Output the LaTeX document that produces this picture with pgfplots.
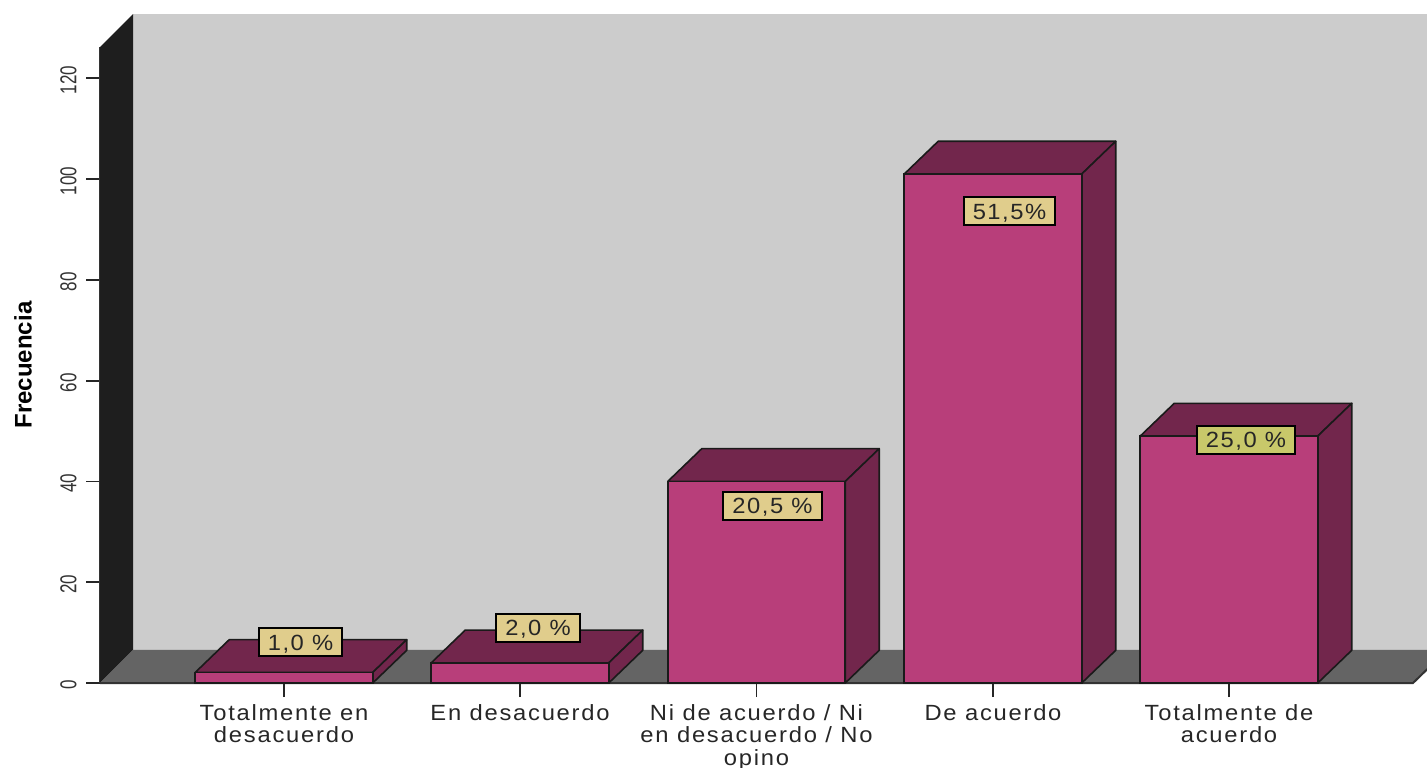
\documentclass[border=0pt]{standalone}
\usepackage{pgfplots}
\pgfplotsset{compat=1.18}
\usepackage{fontspec}
\setmainfont{Liberation Sans}
\newfontfamily\lab[FakeStretch=1.08,LetterSpace=8]{Liberation Sans}
\newfontfamily\tagf[FakeStretch=1.08,LetterSpace=7]{Liberation Sans}
\newfontfamily\num[FakeStretch=0.74]{Liberation Sans}
\definecolor{barfront}{RGB}{184,62,122}
\definecolor{bardark}{RGB}{114,38,76}
\definecolor{wallc}{RGB}{204,204,204}
\definecolor{floorc}{RGB}{100,100,100}
\definecolor{leftc}{RGB}{30,30,30}
\definecolor{linec}{RGB}{26,26,26}
\definecolor{tagA}{RGB}{224,205,140}
\definecolor{tagB}{RGB}{200,200,106}
\pgfplotsset{
  shade3d/.style={fill=bardark,draw=linec,line width=0.8pt,forget plot,line join=round},
  tag/.style={only marks,mark=none,point meta=explicit symbolic,forget plot,
    nodes near coords,
    every node near coord/.append style={anchor=center,draw=black,line width=1pt,fill=#1,
      font=\fontsize{11}{11}\selectfont\tagf,text=black!85,inner xsep=4.6pt,inner ysep=3pt,text height=8pt,text depth=0pt}},
}
\begin{document}
\begin{tikzpicture}
\path[use as bounding box] (-50pt,-42pt) rectangle (663.5pt,341.5pt);
\begin{axis}[
  scale only axis,width=656.5pt,height=318pt,
  xmin=100,xmax=1413,ymin=0,ymax=126.2,
  axis x line=bottom,axis y line=left,
  axis line style={-,draw=black!80,line width=1pt},
  clip=false,
  xtick={284,520,756.5,993,1229},
  xticklabels={Totalmente en\\desacuerdo,En desacuerdo,Ni de acuerdo / Ni\\en desacuerdo / No\\opino,De acuerdo,Totalmente de\\acuerdo},
  xticklabel style={align=center,font=\fontsize{11}{11.2}\selectfont\lab,text=black!85,inner sep=0pt,yshift=-3.5pt},
  ytick={0,20,40,60,80,100,120},
  /pgf/number format/assume math mode=true,
  yticklabel style={rotate=90,anchor=south,font=\fontsize{11.5}{11.5}\selectfont\num,text=black!80,inner sep=0pt,xshift=-1pt,yshift=4.5pt},
  tick style={draw=black!85,line width=0.9pt},
  tickwidth=7pt,
  tick align=outside,
  ylabel={\bfseries Frecuencia},
  ylabel style={at={(axis description cs:-0.0587,0.5)},anchor=center,font=\fontsize{12}{12}\selectfont,inner sep=0pt,text=black},
]
% back wall, left wall, floor
\addplot[fill=wallc,draw=none,forget plot] coordinates {(133,6.55)(1447,6.55)(1447,132.7)(133,132.7)} -- cycle;
\addplot[fill=leftc,draw=none,forget plot] coordinates {(100,0)(133,6.55)(133,132.7)(100,126.2)} -- cycle;
\addplot[fill=floorc,draw=none,forget plot] coordinates {(100,0)(1413,0)(1447,6.55)(133,6.55)} -- cycle;
\addplot[draw=black!80,line width=1pt,forget plot] coordinates {(100,0)(1413,0)(1447,6.55)};
% bar tops
\addplot[shade3d] coordinates {(195.25,2.1)(372.75,2.1)(406.75,8.6)(229.25,8.6)} -- cycle;
\addplot[shade3d] coordinates {(431.25,4)(608.75,4)(642.75,10.5)(465.25,10.5)} -- cycle;
\addplot[shade3d] coordinates {(667.75,40)(845.25,40)(879.25,46.5)(701.75,46.5)} -- cycle;
\addplot[shade3d] coordinates {(904.25,101)(1081.75,101)(1115.75,107.5)(938.25,107.5)} -- cycle;
\addplot[shade3d] coordinates {(1140.25,49)(1317.75,49)(1351.75,55.5)(1174.25,55.5)} -- cycle;
% bar sides
\addplot[shade3d] coordinates {(372.75,0)(406.75,6.5)(406.75,8.6)(372.75,2.1)} -- cycle;
\addplot[shade3d] coordinates {(608.75,0)(642.75,6.5)(642.75,10.5)(608.75,4)} -- cycle;
\addplot[shade3d] coordinates {(845.25,0)(879.25,6.5)(879.25,46.5)(845.25,40)} -- cycle;
\addplot[shade3d] coordinates {(1081.75,0)(1115.75,6.5)(1115.75,107.5)(1081.75,101)} -- cycle;
\addplot[shade3d] coordinates {(1317.75,0)(1351.75,6.5)(1351.75,55.5)(1317.75,49)} -- cycle;
% bar fronts
\addplot[ybar,bar width=177.5,bar shift=0,fill=barfront,draw=linec,line width=0.8pt,forget plot]
  coordinates {(284,2.1)(520,4)(756.5,40)(993,101)(1229,49)};
% percentage tags
\addplot[tag=tagA] coordinates {(300.5,8.13)[1,0 \%] (538,11.0)[2,0 \%] (772.5,35.2)[20,5 \%] (1009.5,93.6)[51,5\%]};
\addplot[tag=tagB] coordinates {(1246,48.3)[25,0 \%]};
\end{axis}
\end{tikzpicture}
\end{document}
